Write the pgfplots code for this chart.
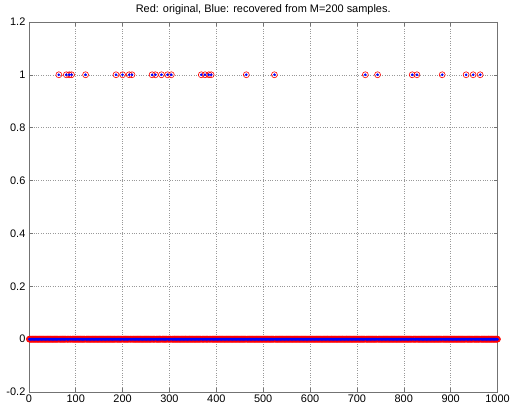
\documentclass[border=0pt]{standalone}
\usepackage{pgfplots}
\pgfplotsset{compat=1.18}
\usepackage{pgfplotstable}
\usepackage{fontspec}
\setmainfont{Liberation Sans}
\pgfplotstableread[row sep=\\]{
x y\\
1 0\\2 0\\3 0\\4 0\\5 0\\6 0\\7 0\\8 0\\9 0\\10 0\\
11 0\\12 0\\13 0\\14 0\\15 0\\16 0\\17 0\\18 0\\19 0\\20 0\\
21 0\\22 0\\23 0\\24 0\\25 0\\26 0\\27 0\\28 0\\29 0\\30 0\\
31 0\\32 0\\33 0\\34 0\\35 0\\36 0\\37 0\\38 0\\39 0\\40 0\\
41 0\\42 0\\43 0\\44 0\\45 0\\46 0\\47 0\\48 0\\49 0\\50 0\\
51 0\\52 0\\53 0\\54 0\\55 0\\56 0\\57 0\\58 0\\59 0\\60 0\\
61 0\\62 0\\63 0\\64 1\\65 0\\66 0\\67 0\\68 0\\69 0\\70 0\\
71 0\\72 0\\73 0\\74 0\\75 0\\76 0\\77 0\\78 0\\79 0\\80 1\\
81 0\\82 0\\83 0\\84 0\\85 0\\86 1\\87 0\\88 0\\89 0\\90 0\\
91 1\\92 0\\93 0\\94 0\\95 0\\96 0\\97 0\\98 0\\99 0\\100 0\\
101 0\\102 0\\103 0\\104 0\\105 0\\106 0\\107 0\\108 0\\109 0\\110 0\\
111 0\\112 0\\113 0\\114 0\\115 0\\116 0\\117 0\\118 0\\119 0\\120 0\\
121 1\\122 0\\123 0\\124 0\\125 0\\126 0\\127 0\\128 0\\129 0\\130 0\\
131 0\\132 0\\133 0\\134 0\\135 0\\136 0\\137 0\\138 0\\139 0\\140 0\\
141 0\\142 0\\143 0\\144 0\\145 0\\146 0\\147 0\\148 0\\149 0\\150 0\\
151 0\\152 0\\153 0\\154 0\\155 0\\156 0\\157 0\\158 0\\159 0\\160 0\\
161 0\\162 0\\163 0\\164 0\\165 0\\166 0\\167 0\\168 0\\169 0\\170 0\\
171 0\\172 0\\173 0\\174 0\\175 0\\176 0\\177 0\\178 0\\179 0\\180 0\\
181 0\\182 0\\183 0\\184 0\\185 0\\186 1\\187 0\\188 0\\189 0\\190 0\\
191 0\\192 0\\193 0\\194 0\\195 0\\196 0\\197 0\\198 0\\199 0\\200 1\\
201 0\\202 0\\203 0\\204 0\\205 0\\206 0\\207 0\\208 0\\209 0\\210 0\\
211 0\\212 0\\213 0\\214 1\\215 0\\216 0\\217 0\\218 0\\219 0\\220 1\\
221 0\\222 0\\223 0\\224 0\\225 0\\226 0\\227 0\\228 0\\229 0\\230 0\\
231 0\\232 0\\233 0\\234 0\\235 0\\236 0\\237 0\\238 0\\239 0\\240 0\\
241 0\\242 0\\243 0\\244 0\\245 0\\246 0\\247 0\\248 0\\249 0\\250 0\\
251 0\\252 0\\253 0\\254 0\\255 0\\256 0\\257 0\\258 0\\259 0\\260 0\\
261 0\\262 0\\263 1\\264 0\\265 0\\266 0\\267 0\\268 0\\269 0\\270 1\\
271 0\\272 0\\273 0\\274 0\\275 0\\276 0\\277 0\\278 0\\279 0\\280 0\\
281 0\\282 0\\283 1\\284 0\\285 0\\286 0\\287 0\\288 0\\289 0\\290 0\\
291 0\\292 0\\293 0\\294 0\\295 0\\296 1\\297 0\\298 0\\299 0\\300 0\\
301 0\\302 0\\303 0\\304 1\\305 0\\306 0\\307 0\\308 0\\309 0\\310 0\\
311 0\\312 0\\313 0\\314 0\\315 0\\316 0\\317 0\\318 0\\319 0\\320 0\\
321 0\\322 0\\323 0\\324 0\\325 0\\326 0\\327 0\\328 0\\329 0\\330 0\\
331 0\\332 0\\333 0\\334 0\\335 0\\336 0\\337 0\\338 0\\339 0\\340 0\\
341 0\\342 0\\343 0\\344 0\\345 0\\346 0\\347 0\\348 0\\349 0\\350 0\\
351 0\\352 0\\353 0\\354 0\\355 0\\356 0\\357 0\\358 0\\359 0\\360 0\\
361 0\\362 0\\363 0\\364 0\\365 0\\366 0\\367 0\\368 1\\369 0\\370 0\\
371 0\\372 0\\373 0\\374 0\\375 0\\376 1\\377 0\\378 0\\379 0\\380 0\\
381 0\\382 0\\383 0\\384 1\\385 0\\386 0\\387 0\\388 0\\389 1\\390 0\\
391 0\\392 0\\393 0\\394 0\\395 0\\396 0\\397 0\\398 0\\399 0\\400 0\\
401 0\\402 0\\403 0\\404 0\\405 0\\406 0\\407 0\\408 0\\409 0\\410 0\\
411 0\\412 0\\413 0\\414 0\\415 0\\416 0\\417 0\\418 0\\419 0\\420 0\\
421 0\\422 0\\423 0\\424 0\\425 0\\426 0\\427 0\\428 0\\429 0\\430 0\\
431 0\\432 0\\433 0\\434 0\\435 0\\436 0\\437 0\\438 0\\439 0\\440 0\\
441 0\\442 0\\443 0\\444 0\\445 0\\446 0\\447 0\\448 0\\449 0\\450 0\\
451 0\\452 0\\453 0\\454 0\\455 0\\456 0\\457 0\\458 0\\459 0\\460 0\\
461 0\\462 0\\463 0\\464 1\\465 0\\466 0\\467 0\\468 0\\469 0\\470 0\\
471 0\\472 0\\473 0\\474 0\\475 0\\476 0\\477 0\\478 0\\479 0\\480 0\\
481 0\\482 0\\483 0\\484 0\\485 0\\486 0\\487 0\\488 0\\489 0\\490 0\\
491 0\\492 0\\493 0\\494 0\\495 0\\496 0\\497 0\\498 0\\499 0\\500 0\\
501 0\\502 0\\503 0\\504 0\\505 0\\506 0\\507 0\\508 0\\509 0\\510 0\\
511 0\\512 0\\513 0\\514 0\\515 0\\516 0\\517 0\\518 0\\519 0\\520 0\\
521 0\\522 0\\523 0\\524 1\\525 0\\526 0\\527 0\\528 0\\529 0\\530 0\\
531 0\\532 0\\533 0\\534 0\\535 0\\536 0\\537 0\\538 0\\539 0\\540 0\\
541 0\\542 0\\543 0\\544 0\\545 0\\546 0\\547 0\\548 0\\549 0\\550 0\\
551 0\\552 0\\553 0\\554 0\\555 0\\556 0\\557 0\\558 0\\559 0\\560 0\\
561 0\\562 0\\563 0\\564 0\\565 0\\566 0\\567 0\\568 0\\569 0\\570 0\\
571 0\\572 0\\573 0\\574 0\\575 0\\576 0\\577 0\\578 0\\579 0\\580 0\\
581 0\\582 0\\583 0\\584 0\\585 0\\586 0\\587 0\\588 0\\589 0\\590 0\\
591 0\\592 0\\593 0\\594 0\\595 0\\596 0\\597 0\\598 0\\599 0\\600 0\\
601 0\\602 0\\603 0\\604 0\\605 0\\606 0\\607 0\\608 0\\609 0\\610 0\\
611 0\\612 0\\613 0\\614 0\\615 0\\616 0\\617 0\\618 0\\619 0\\620 0\\
621 0\\622 0\\623 0\\624 0\\625 0\\626 0\\627 0\\628 0\\629 0\\630 0\\
631 0\\632 0\\633 0\\634 0\\635 0\\636 0\\637 0\\638 0\\639 0\\640 0\\
641 0\\642 0\\643 0\\644 0\\645 0\\646 0\\647 0\\648 0\\649 0\\650 0\\
651 0\\652 0\\653 0\\654 0\\655 0\\656 0\\657 0\\658 0\\659 0\\660 0\\
661 0\\662 0\\663 0\\664 0\\665 0\\666 0\\667 0\\668 0\\669 0\\670 0\\
671 0\\672 0\\673 0\\674 0\\675 0\\676 0\\677 0\\678 0\\679 0\\680 0\\
681 0\\682 0\\683 0\\684 0\\685 0\\686 0\\687 0\\688 0\\689 0\\690 0\\
691 0\\692 0\\693 0\\694 0\\695 0\\696 0\\697 0\\698 0\\699 0\\700 0\\
701 0\\702 0\\703 0\\704 0\\705 0\\706 0\\707 0\\708 0\\709 0\\710 0\\
711 0\\712 0\\713 0\\714 0\\715 0\\716 0\\717 0\\718 1\\719 0\\720 0\\
721 0\\722 0\\723 0\\724 0\\725 0\\726 0\\727 0\\728 0\\729 0\\730 0\\
731 0\\732 0\\733 0\\734 0\\735 0\\736 0\\737 0\\738 0\\739 0\\740 0\\
741 0\\742 0\\743 0\\744 1\\745 0\\746 0\\747 0\\748 0\\749 0\\750 0\\
751 0\\752 0\\753 0\\754 0\\755 0\\756 0\\757 0\\758 0\\759 0\\760 0\\
761 0\\762 0\\763 0\\764 0\\765 0\\766 0\\767 0\\768 0\\769 0\\770 0\\
771 0\\772 0\\773 0\\774 0\\775 0\\776 0\\777 0\\778 0\\779 0\\780 0\\
781 0\\782 0\\783 0\\784 0\\785 0\\786 0\\787 0\\788 0\\789 0\\790 0\\
791 0\\792 0\\793 0\\794 0\\795 0\\796 0\\797 0\\798 0\\799 0\\800 0\\
801 0\\802 0\\803 0\\804 0\\805 0\\806 0\\807 0\\808 0\\809 0\\810 0\\
811 0\\812 0\\813 0\\814 0\\815 0\\816 0\\817 0\\818 1\\819 0\\820 0\\
821 0\\822 0\\823 0\\824 0\\825 0\\826 0\\827 0\\828 1\\829 0\\830 0\\
831 0\\832 0\\833 0\\834 0\\835 0\\836 0\\837 0\\838 0\\839 0\\840 0\\
841 0\\842 0\\843 0\\844 0\\845 0\\846 0\\847 0\\848 0\\849 0\\850 0\\
851 0\\852 0\\853 0\\854 0\\855 0\\856 0\\857 0\\858 0\\859 0\\860 0\\
861 0\\862 0\\863 0\\864 0\\865 0\\866 0\\867 0\\868 0\\869 0\\870 0\\
871 0\\872 0\\873 0\\874 0\\875 0\\876 0\\877 0\\878 0\\879 0\\880 0\\
881 0\\882 1\\883 0\\884 0\\885 0\\886 0\\887 0\\888 0\\889 0\\890 0\\
891 0\\892 0\\893 0\\894 0\\895 0\\896 0\\897 0\\898 0\\899 0\\900 0\\
901 0\\902 0\\903 0\\904 0\\905 0\\906 0\\907 0\\908 0\\909 0\\910 0\\
911 0\\912 0\\913 0\\914 0\\915 0\\916 0\\917 0\\918 0\\919 0\\920 0\\
921 0\\922 0\\923 0\\924 0\\925 0\\926 0\\927 0\\928 0\\929 0\\930 0\\
931 0\\932 0\\933 1\\934 0\\935 0\\936 0\\937 0\\938 0\\939 0\\940 0\\
941 0\\942 0\\943 0\\944 0\\945 0\\946 0\\947 0\\948 1\\949 0\\950 0\\
951 0\\952 0\\953 0\\954 0\\955 0\\956 0\\957 0\\958 0\\959 0\\960 0\\
961 0\\962 0\\963 1\\964 0\\965 0\\966 0\\967 0\\968 0\\969 0\\970 0\\
971 0\\972 0\\973 0\\974 0\\975 0\\976 0\\977 0\\978 0\\979 0\\980 0\\
981 0\\982 0\\983 0\\984 0\\985 0\\986 0\\987 0\\988 0\\989 0\\990 0\\
991 0\\992 0\\993 0\\994 0\\995 0\\996 0\\997 0\\998 0\\999 0\\1000 0\\
}\sigdata
\begin{document}
\begin{tikzpicture}
\begin{axis}[
  scale only axis,
  width=471pt, height=372pt,
  xmin=0, xmax=1000, ymin=-0.2, ymax=1.2,
  xtick={0,100,200,300,400,500,600,700,800,900,1000},
  xticklabels={0,100,200,300,400,500,600,700,800,900,1000},
  ytick={-0.2,0,0.2,0.4,0.6,0.8,1,1.2},
  yticklabels={-0.2,0,0.2,0.4,0.6,0.8,1,1.2},
  xtick pos=both, ytick pos=both,
  tick align=inside,
  major tick length=4pt,
  grid=major,
  major grid style={dotted, black!40, line width=0.5pt},
  axis line style={black!55, line width=0.6pt},
  tick style={black!55, line width=0.5pt},
  title={Red: original, Blue: recovered from M=200 samples.},
  title style={font=\fontsize{11}{13}\selectfont, yshift=-2pt},
  tick label style={font=\fontsize{11}{13}\selectfont},
  xticklabel style={yshift=1pt},
  clip=false,
]
\addplot[only marks, mark=o, color=red, mark size=3pt, mark options={line width=0.6pt}] table[x=x, y=y] {\sigdata};
\addplot[only marks, mark=*, color=blue, mark size=1.1pt] table[x=x, y=y] {\sigdata};
\coordinate (bl) at (rel axis cs:0,0);
\coordinate (tr) at (rel axis cs:1,1);
\end{axis}
\path ([xshift=-29pt,yshift=-15pt]bl) rectangle ([xshift=13pt,yshift=22pt]tr);
\end{tikzpicture}
\end{document}
